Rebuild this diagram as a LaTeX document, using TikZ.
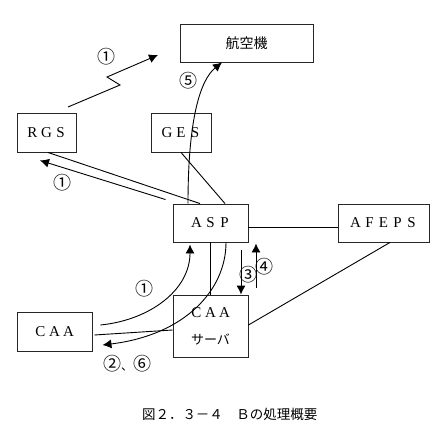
\documentclass[tikz,border=0pt]{standalone}
\usepackage{fontspec}
\setmainfont{Liberation Serif}
\newfontfamily\jp{Noto Sans CJK JP}
\usetikzlibrary{arrows.meta}
\newcommand\ltr[1]{\makebox[14pt]{#1}}
\begin{document}
\begin{tikzpicture}[x=1pt,y=-1pt,
  box/.style={draw=black!85,line width=0.9pt,rectangle,inner sep=0pt,font=\fontsize{15}{17}\selectfont},
  conn/.style={line width=0.9pt},
  arr/.style={conn,-{Latex[length=9pt,width=9pt]}},
  num/.style={font=\jp\fontsize{18}{18}\selectfont,inner sep=0pt}]
\useasboundingbox[fill=white] (0,0) rectangle (438,440);
% boxes
\node[box,minimum width=133pt,minimum height=38pt] (air) at (246.5,43) {\jp\fontsize{14}{14}\selectfont 航空機};
\node[box,minimum width=59pt,minimum height=39pt] (rgs) at (46.5,132.5) {\ltr{R}\ltr{G}\ltr{S}};
\node[box,minimum width=60pt,minimum height=39pt] (ges) at (181,132.5) {\ltr{G}\ltr{E}\ltr{S}};
\node[box,minimum width=75pt,minimum height=38pt] (asp) at (210.5,223) {\ltr{A}\ltr{S}\ltr{P}};
\node[box,minimum width=91pt,minimum height=38pt] (afeps) at (383.5,223) {\ltr{A}\ltr{F}\ltr{E}\ltr{P}\ltr{S}};
\node[box,minimum width=75pt,minimum height=39pt] (caa) at (54.5,331.5) {\ltr{C}\ltr{A}\ltr{A}};
\node[box,minimum width=75pt,minimum height=62pt,align=center] (srv) at (210.5,326) {\ltr{C}\ltr{A}\ltr{A}\\[10pt]{\jp\fontsize{13}{13}\selectfont サーバ}};
% lightning
\coordinate (lz0) at (68,107);
\coordinate (lz1) at (120,85);
\coordinate (lz2) at (107,77);
\coordinate (lzT) at (158,55);
\draw[arr] (lz0) -- (lz1) -- (lz2) -- (lzT);
% ASP -> aircraft
\draw[arr] ([xshift=-22.5pt]asp.north) .. controls (188,120) and (200,80) .. ([xshift=-24.5pt]air.south);
% ASP -> RGS (double)
\draw[conn] ([xshift=-10.5pt]asp.north) -- ([xshift=1.5pt]rgs.south);
\draw[arr] ([xshift=-7pt,yshift=4pt]asp.north west) -- ([xshift=-6.5pt,yshift=-8pt]rgs.south);
% GES - ASP
\draw[conn] (ges.south) -- ([xshift=14.5pt]asp.north);
% ASP - AFEPS
\draw[conn] ([yshift=-4pt]asp.east) -- ([yshift=-4pt]afeps.west);
% AFEPS - server
\draw[conn] ([xshift=6.5pt]afeps.south) -- ([yshift=1pt]srv.east);
% ASP - server
\draw[conn] (asp.south) -- (srv.north);
% CAA -> ASP
\draw[arr] ([xshift=8pt,yshift=6.5pt]caa.east) .. controls (150,320) and (190,290) .. ([xshift=-20.5pt,yshift=-2pt]asp.south);
% CAA - server
\draw[conn] ([xshift=2pt,yshift=-3.5pt]caa.east) -- ([yshift=-4pt]srv.west);
% ASP -> CAA
\draw[arr] ([xshift=15.5pt]asp.south) .. controls (226,290) and (185,335) .. ([xshift=10pt,yshift=-13.5pt]caa.east);
% 3 and 4
\draw[arr] ([xshift=30.5pt,yshift=-8pt]asp.south) -- ([xshift=30.5pt]srv.north);
\draw[arr] ([xshift=45.5pt,yshift=7pt]srv.north) -- ([xshift=45.5pt,yshift=-1pt]asp.south);
% labels
\node[num] (n1a) at (106.7,56.7) {①};
\node[num] (n5) at (188,80.5) {⑤};
\node[num] (n1b) at (62,183) {①};
\node[num] (n1c) at (144,289) {①};
\node[num] (n26) at (127,364) {②{\fontsize{12}{12}\selectfont 、}⑥};
\node[num] (n3) at (248,275) {③};
\node[num] (n4) at (264,267) {④};
\node[font=\jp\fontsize{13.5}{13.5}\selectfont,inner sep=0pt] (cap) at (229.75,414) {図２．３－４　Ｂの処理概要};
\end{tikzpicture}
\end{document}
